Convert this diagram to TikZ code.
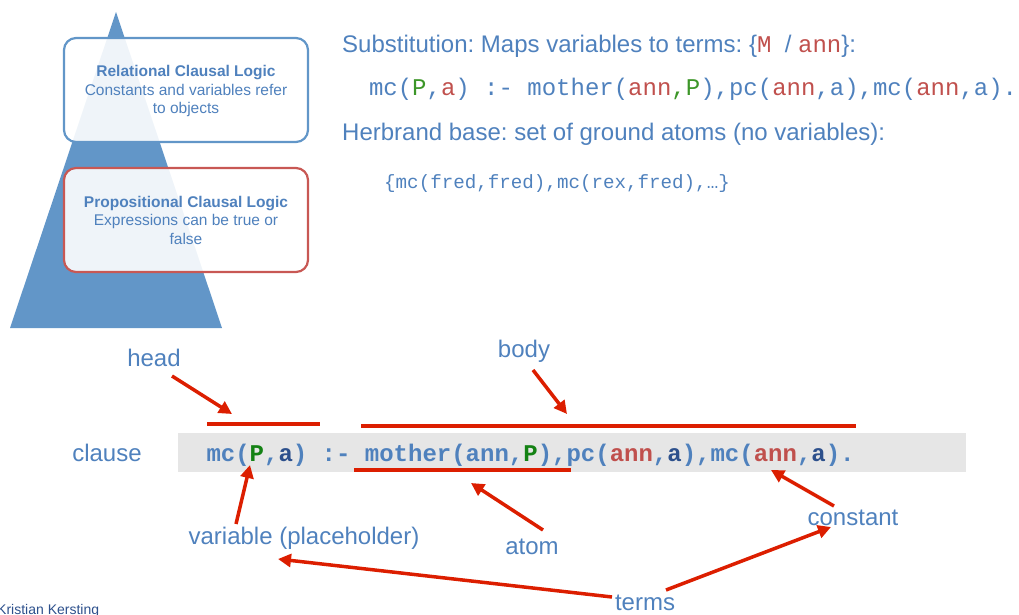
\documentclass[tikz,border=0pt]{standalone}
\usepackage{fontspec}
\setmainfont{Liberation Sans}
\newfontfamily\cour{Liberation Mono}
\usetikzlibrary{arrows.meta}
\frenchspacing
\definecolor{tblue}{RGB}{79,129,189}
\definecolor{pyr}{RGB}{98,150,200}
\definecolor{bred}{RGB}{200,88,84}
\definecolor{cred}{RGB}{192,80,77}
\definecolor{cgreen}{RGB}{60,150,40}
\definecolor{dgreen}{RGB}{20,130,20}
\definecolor{navy}{RGB}{45,80,140}
\definecolor{arr}{RGB}{220,30,0}
\definecolor{band}{RGB}{230,230,230}
\tikzset{
  lbl/.style={inner sep=0pt, text=tblue, font=\fontsize{24}{26}\selectfont},
  boxtxt/.style={inner sep=0pt, text=tblue, align=center, font=\fontsize{15.5}{18.5}\selectfont},
  lbox/.style={draw, line width=2.2pt, rounded corners=12pt, fill=white, fill opacity=0.9},
  redarrow/.style={draw=arr, line width=3.5pt, -{Triangle[length=13pt,width=13pt]}},
  redline/.style={draw=arr, line width=3.5pt},
}
\begin{document}
\begin{tikzpicture}[x=1pt,y=-1pt]
\useasboundingbox (0,0) rectangle (1019,615);
% pyramid
\fill[pyr] (116,12) -- (222,328) -- (10,328) -- cycle;
\draw[lbox, draw=pyr] (64,38) rectangle (308,142);
\draw[lbox, draw=bred] (64,168) rectangle (308,272);
\node[boxtxt] (rel) at (186,91) {\textbf{Relational Clausal Logic}\\Constants and variables refer\\to objects};
\node[boxtxt] (prop) at (186,220) {\textbf{Propositional Clausal Logic}\\Expressions can be true or\\false};
% right top text
\node[lbl, anchor=base west] (subst) at (342,53) {Substitution: Maps variables to terms: \{\textcolor{cred}{\cour M}\ \ /\ \textcolor{cred}{\cour ann}\}:};
\node[inner sep=0pt, anchor=base west, text=tblue, font=\cour\fontsize{24}{26}\selectfont] (ex) at (368.8,96)
 {mc(\textcolor{cgreen}{P},\textcolor{cred}{a})\ :-\ mother(\textcolor{cred}{ann}\textcolor{cgreen}{,P}),pc(\textcolor{cred}{ann},a),mc(\textcolor{cred}{ann},a).};
\node[lbl, anchor=base west] (herb) at (342,140) {Herbrand base: set of ground atoms (no variables):};
\node[inner sep=0pt, anchor=base west, text=tblue, font=\cour\fontsize{19.2}{21}\selectfont] (set) at (384,188) {\{mc(fred,fred),mc(rex,fred),…\}};
% clause band
\fill[band] (178,433) rectangle (966,472);
\node[lbl] (clause) at (107,453) {clause};
\node[inner sep=0pt, anchor=base west, text=tblue, font=\cour\bfseries\fontsize{24}{26}\selectfont] (cl) at (206.3,461)
 {mc(\textcolor{dgreen}{P},\textcolor{navy}{a})\ :-\ mother(ann,\textcolor{dgreen}{P}),pc(\textcolor{cred}{ann},\textcolor{navy}{a}),mc(\textcolor{cred}{ann},\textcolor{navy}{a}).};
% labels
\node[lbl] (head) at (154,358) {head};
\node[lbl] (body) at (524,351) {body};
\node[lbl] (var) at (304,538) {variable (placeholder)};
\node[lbl] (atom) at (532,547) {atom};
\node[lbl] (const) at (853,518) {constant};
\node[lbl] (terms) at (645,603) {terms};
\node[inner sep=0pt, anchor=base west, text=navy, font=\fontsize{14}{16}\selectfont] (auth) at (-3,614) {Kristian Kersting};
% coordinates for lines
\coordinate (hl1) at (207,424); \coordinate (hl2) at (320,424);
\coordinate (bl1) at (361,426); \coordinate (bl2) at (856,426);
\coordinate (ml1) at (354,470); \coordinate (ml2) at (571,470);
\coordinate (hS) at (172,376); \coordinate (hT) at (232,414);
\coordinate (bS) at (533,370); \coordinate (bT) at (567,414);
\coordinate (pS) at (236,524); \coordinate (pT) at (250,465);
\coordinate (aS) at (543,530); \coordinate (aT) at (471,483);
\coordinate (cS) at (834,506); \coordinate (cT) at (771,470);
\coordinate (tS1) at (612,597); \coordinate (vT) at (278,559);
\coordinate (tS2) at (666,590); \coordinate (ctT) at (831,527);
\draw[redline] (hl1) -- (hl2);
\draw[redline] (bl1) -- (bl2);
\draw[redline] (ml1) -- (ml2);
\draw[redarrow] (hS) -- (hT);
\draw[redarrow] (bS) -- (bT);
\draw[redarrow] (pS) -- (pT);
\draw[redarrow] (aS) -- (aT);
\draw[redarrow] (cS) -- (cT);
\draw[redarrow] (tS1) -- (vT);
\draw[redarrow] (tS2) -- (ctT);
\end{tikzpicture}
\end{document}
